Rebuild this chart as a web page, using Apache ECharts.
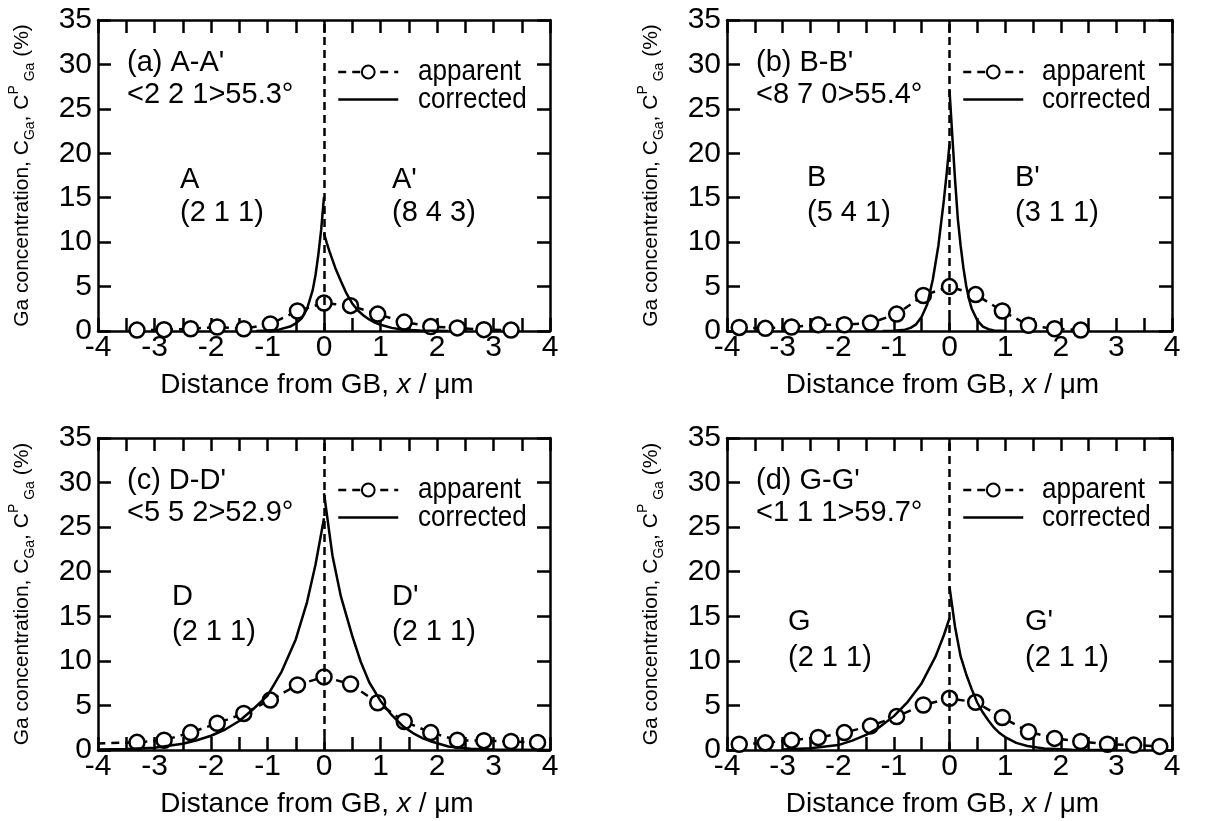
<!DOCTYPE html>
<html>
<head>
<meta charset="utf-8">
<script src="https://cdn.jsdelivr.net/npm/echarts@6/dist/echarts.min.js"></script>
<style>html,body{margin:0;padding:0;background:#fff}#c{width:1207px;height:821px}</style>
</head>
<body>
<div id="c"></div>
<script>
// ---- data ----
const xTicks = [-4, -3, -2, -1, 0, 1, 2, 3, 4];
const yTicks = [0, 5, 10, 15, 20, 25, 30, 35];

const aX = [-3.31, -2.83, -2.36, -1.89, -1.42, -0.95, -0.47, 0, 0.47, 0.95, 1.42, 1.89, 2.36, 2.83, 3.31];
const aApparent = [0.1, 0.15, 0.25, 0.45, 0.25, 0.8, 2.25, 3.15, 2.85, 1.9, 1.0, 0.5, 0.35, 0.15, 0.1];
const aCorrLeft = [[-1.2, 0], [-1.0, 0.05], [-0.8, 0.15], [-0.6, 0.5], [-0.5, 0.85], [-0.4, 1.4], [-0.3, 2.5], [-0.2, 4.6], [-0.15, 6.3], [-0.1, 8.6], [-0.05, 11.4], [0, 15.1]];
const aCorrRight = [[0, 11.0], [0.05, 9.9], [0.1, 8.9], [0.15, 8.0], [0.2, 7.1], [0.3, 5.6], [0.4, 4.2], [0.5, 3.1], [0.6, 2.3], [0.7, 1.75], [0.8, 1.3], [0.9, 0.95], [1.0, 0.7], [1.2, 0.35], [1.4, 0.15], [1.7, 0.05], [2.2, 0]];

const bX = [-3.78, -3.31, -2.84, -2.36, -1.89, -1.42, -0.95, -0.47, 0, 0.47, 0.95, 1.42, 1.89, 2.36];
const bApparent = [0.4, 0.3, 0.45, 0.7, 0.7, 0.9, 1.9, 4.0, 5.0, 4.1, 2.25, 0.65, 0.25, 0.1];
const bCorrLeft = [[-1.2, 0], [-1.0, 0.02], [-0.8, 0.15], [-0.7, 0.35], [-0.6, 0.75], [-0.5, 1.6], [-0.4, 3.0], [-0.3, 5.8], [-0.2, 9.6], [-0.1, 14.8], [-0.05, 17.8], [0, 21.0]];
const bCorrRight = [[0, 27.1], [0.05, 22.0], [0.1, 17.0], [0.15, 12.6], [0.2, 9.6], [0.25, 7.1], [0.3, 5.1], [0.35, 3.6], [0.4, 2.5], [0.5, 1.2], [0.6, 0.5], [0.7, 0.2], [0.8, 0.07], [1.0, 0]];

const cX = [-4.26, -3.31, -2.83, -2.36, -1.89, -1.42, -0.95, -0.47, 0, 0.47, 0.95, 1.42, 1.89, 2.36, 2.83, 3.31, 3.78];
const cApparent = [0.7, 0.86, 1.1, 1.95, 3.0, 4.1, 5.6, 7.3, 8.2, 7.4, 5.3, 3.2, 1.95, 1.1, 1.05, 0.95, 0.85];
const cCorrLeft = [[-4.0, 0.05], [-3.5, 0.1], [-3.0, 0.25], [-2.5, 0.7], [-2.25, 1.1], [-2.0, 1.6], [-1.75, 2.3], [-1.5, 3.25], [-1.25, 4.6], [-1.0, 6.1], [-0.75, 8.8], [-0.5, 12.4], [-0.3, 16.6], [-0.15, 20.8], [0, 26.0]];
const cCorrRight = [[0, 28.8], [0.15, 21.8], [0.3, 17.2], [0.5, 12.8], [0.65, 9.9], [0.8, 7.6], [1.0, 5.5], [1.2, 3.9], [1.4, 2.65], [1.6, 1.8], [1.75, 1.3], [1.9, 0.95], [2.2, 0.4], [2.6, 0.15], [3.0, 0.05], [4.0, 0]];

const dX = [-3.78, -3.31, -2.84, -2.36, -1.89, -1.42, -0.95, -0.47, 0, 0.47, 0.95, 1.42, 1.89, 2.36, 2.84, 3.31, 3.78];
const dApparent = [0.65, 0.8, 1.1, 1.4, 1.95, 2.7, 3.75, 5.05, 5.8, 5.35, 3.65, 2.05, 1.3, 0.95, 0.65, 0.55, 0.4];
const dCorrLeft = [[-3.0, 0.05], [-2.5, 0.2], [-2.0, 0.55], [-1.75, 1.05], [-1.5, 1.7], [-1.25, 2.6], [-1.0, 3.8], [-0.75, 5.4], [-0.5, 7.5], [-0.25, 10.5], [-0.1, 12.9], [0, 14.8]];
const dCorrRight = [[0, 18.3], [0.1, 13.8], [0.2, 10.5], [0.3, 8.5], [0.4, 6.8], [0.5, 5.3], [0.6, 4.2], [0.7, 3.3], [0.8, 2.5], [0.9, 1.9], [1.0, 1.45], [1.2, 0.8], [1.4, 0.45], [1.7, 0.18], [2.2, 0.04], [3.0, 0]];

const panelTitles = ["(a) A-A'", "(b) B-B'", "(c) D-D'", "(d) G-G'"];
const misorientations = ['<2 2 1>55.3°', '<8 7 0>55.4°', '<5 5 2>52.9°', '<1 1 1>59.7°'];
const leftGrains = ['A', 'B', 'D', 'G'];
const leftPlanes = ['(2 1 1)', '(5 4 1)', '(2 1 1)', '(2 1 1)'];
const rightGrains = ["A'", "B'", "D'", "G'"];
const rightPlanes = ['(8 4 3)', '(3 1 1)', '(2 1 1)', '(2 1 1)'];
const seriesNames = ['apparent', 'corrected'];

// ---- layout ----
const FONT = "'Liberation Sans', Arial, sans-serif";
const grids = [
  {left: 98, top: 20, width: 452, height: 311},
  {left: 727, top: 20, width: 445, height: 311},
  {left: 98, top: 438, width: 452, height: 312},
  {left: 727, top: 438, width: 445, height: 312}
];
const grainPos = [
  {lx: 180, rx: 392, y1: 180, y2: 213},
  {lx: 807, rx: 1015, y1: 178, y2: 213},
  {lx: 172, rx: 392, y1: 597, y2: 632},
  {lx: 788, rx: 1025, y1: 622, y2: 658}
];
const legendPos = [
  {icon: 337, text: 418},
  {icon: 962, text: 1042},
  {icon: 337, text: 418},
  {icon: 962, text: 1042}
];
const panels = [
  {x: aX, app: aApparent, L: aCorrLeft, R: aCorrRight},
  {x: bX, app: bApparent, L: bCorrLeft, R: bCorrRight},
  {x: cX, app: cApparent, L: cCorrLeft, R: cCorrRight},
  {x: dX, app: dApparent, L: dCorrLeft, R: dCorrRight}
];

const black = '#000';
const LW = 2.5;
const mkLine = () => ({show: true, onZero: false, lineStyle: {color: black, width: LW}});
const mkTick = () => ({show: true, inside: true, length: 13, lineStyle: {color: black, width: LW}});

const xAxes = [], yAxes = [], series = [], legends = [], graphics = [];
grids.forEach((g, i) => {
  xAxes.push({
    gridIndex: i, type: 'value', min: xTicks[0], max: xTicks[xTicks.length - 1], interval: 0.5, position: 'bottom',
    axisLine: mkLine(), axisTick: mkTick(), splitLine: {show: false},
    axisLabel: {fontSize: 30, fontFamily: FONT, color: black, margin: 2, showMinLabel: true, showMaxLabel: true,
      formatter: v => (xTicks.indexOf(v) >= 0 ? String(v) : '')},
    name: '{n|Distance from GB, }{i|x}{n| / μm}', nameLocation: 'middle', nameGap: 40,
    nameTextStyle: {padding: [0, 14, 0, 0], rich: {
      n: {fontSize: 28, fontFamily: FONT, color: black},
      i: {fontSize: 28, fontFamily: FONT, fontStyle: 'italic', color: black}
    }}
  });
  xAxes.push({
    gridIndex: i, type: 'value', min: xTicks[0], max: xTicks[xTicks.length - 1], interval: 0.5, position: 'top',
    axisLine: mkLine(), axisTick: mkTick(), splitLine: {show: false}, axisLabel: {show: false}
  });
  yAxes.push({
    gridIndex: i, type: 'value', min: yTicks[0], max: yTicks[yTicks.length - 1], interval: 5, position: 'left',
    axisLine: mkLine(), axisTick: mkTick(), splitLine: {show: false},
    axisLabel: {fontSize: 30, fontFamily: FONT, color: black, margin: 6, showMinLabel: true, showMaxLabel: true}
  });
  yAxes.push({
    gridIndex: i, type: 'value', min: yTicks[0], max: yTicks[yTicks.length - 1], interval: 5, position: 'right',
    axisLine: mkLine(), axisTick: mkTick(), splitLine: {show: false}, axisLabel: {show: false}
  });
  const p = panels[i];
  series.push({
    name: 'gb', type: 'line', xAxisIndex: 2 * i, yAxisIndex: 2 * i, data: [], z: 1, silent: true,
    markLine: {symbol: 'none', silent: true, animation: false, label: {show: false},
      lineStyle: {type: [8, 5], color: black, width: LW}, emphasis: {disabled: true},
      data: [{xAxis: 0}]}
  });
  series.push({
    name: seriesNames[0], type: 'line', xAxisIndex: 2 * i, yAxisIndex: 2 * i, z: 2,
    data: p.x.map((x, k) => [x, p.app[k]]),
    symbol: 'circle', symbolSize: 15, showAllSymbol: true, clip: true,
    lineStyle: {color: black, width: LW, type: [8, 6]},
    itemStyle: {color: '#fff', borderColor: black, borderWidth: LW},
    emphasis: {disabled: true}, animation: false
  });
  [p.L, p.R].forEach(d => series.push({
    name: seriesNames[1], type: 'line', xAxisIndex: 2 * i, yAxisIndex: 2 * i, z: 3,
    data: d, symbol: 'none', smooth: false, clip: true,
    lineStyle: {color: black, width: LW},
    itemStyle: {color: 'rgba(0,0,0,0)', borderWidth: 0},
    emphasis: {disabled: true}, animation: false
  }));
  const lp = legendPos[i];
  legends.push({
    data: [{name: seriesNames[0]}, {name: seriesNames[1], itemStyle: {opacity: 0}}],
    orient: 'vertical', left: lp.icon, top: g.top + 44, padding: 0,
    itemWidth: 60, itemHeight: 16, itemGap: 12, selectedMode: false,
    formatter: () => '',
    lineStyle: {width: 'inherit', type: 'inherit'},
    textStyle: {fontSize: 10}
  });
  seriesNames.forEach((nm, k) => graphics.push({
    type: 'text', x: lp.text, y: g.top + 52 + 28 * k, scaleX: 0.9,
    style: {text: nm, fontSize: 29, fontFamily: FONT, fill: black, textAlign: 'left', align: 'left',
      textVerticalAlign: 'middle', verticalAlign: 'middle'}
  }));
  const tl = {fontSize: 29, fontFamily: FONT, fill: black, textVerticalAlign: 'middle', verticalAlign: 'middle', textAlign: 'left', align: 'left'};
  graphics.push({type: 'text', x: g.left + 29, y: g.top + 43, style: Object.assign({text: panelTitles[i]}, tl)});
  graphics.push({type: 'text', x: g.left + 29, y: g.top + 75, style: Object.assign({text: misorientations[i]}, tl)});
  const gp = grainPos[i];
  graphics.push({type: 'text', x: gp.lx, y: gp.y1, style: Object.assign({text: leftGrains[i]}, tl)});
  graphics.push({type: 'text', x: gp.lx, y: gp.y2, style: Object.assign({text: leftPlanes[i]}, tl)});
  graphics.push({type: 'text', x: gp.rx, y: gp.y1, style: Object.assign({text: rightGrains[i]}, tl)});
  graphics.push({type: 'text', x: gp.rx, y: gp.y2, style: Object.assign({text: rightPlanes[i]}, tl)});
  graphics.push({
    type: 'text', x: g.left - 76, y: g.top + g.height / 2, rotation: Math.PI / 2,
    style: {
      text: 'Ga concentration, C{sub|Ga}, C{sup|P}{sub| Ga} (%)',
      fontSize: 21, fontFamily: FONT, fill: black, lineHeight: 30,
      textAlign: 'center', align: 'center', textVerticalAlign: 'middle', verticalAlign: 'middle',
      rich: {
        sub: {fontSize: 14, fontFamily: FONT, fill: black, verticalAlign: 'bottom', lineHeight: 14},
        sup: {fontSize: 14, fontFamily: FONT, fill: black, verticalAlign: 'top', lineHeight: 14}
      }
    }
  });
});

const chart = echarts.init(document.getElementById('c'), null, {renderer: 'canvas'});
chart.setOption({
  backgroundColor: '#fff',
  animation: false,
  grid: grids,
  xAxis: xAxes,
  yAxis: yAxes,
  legend: legends,
  series: series,
  graphic: graphics
});
</script>
</body>
</html>
